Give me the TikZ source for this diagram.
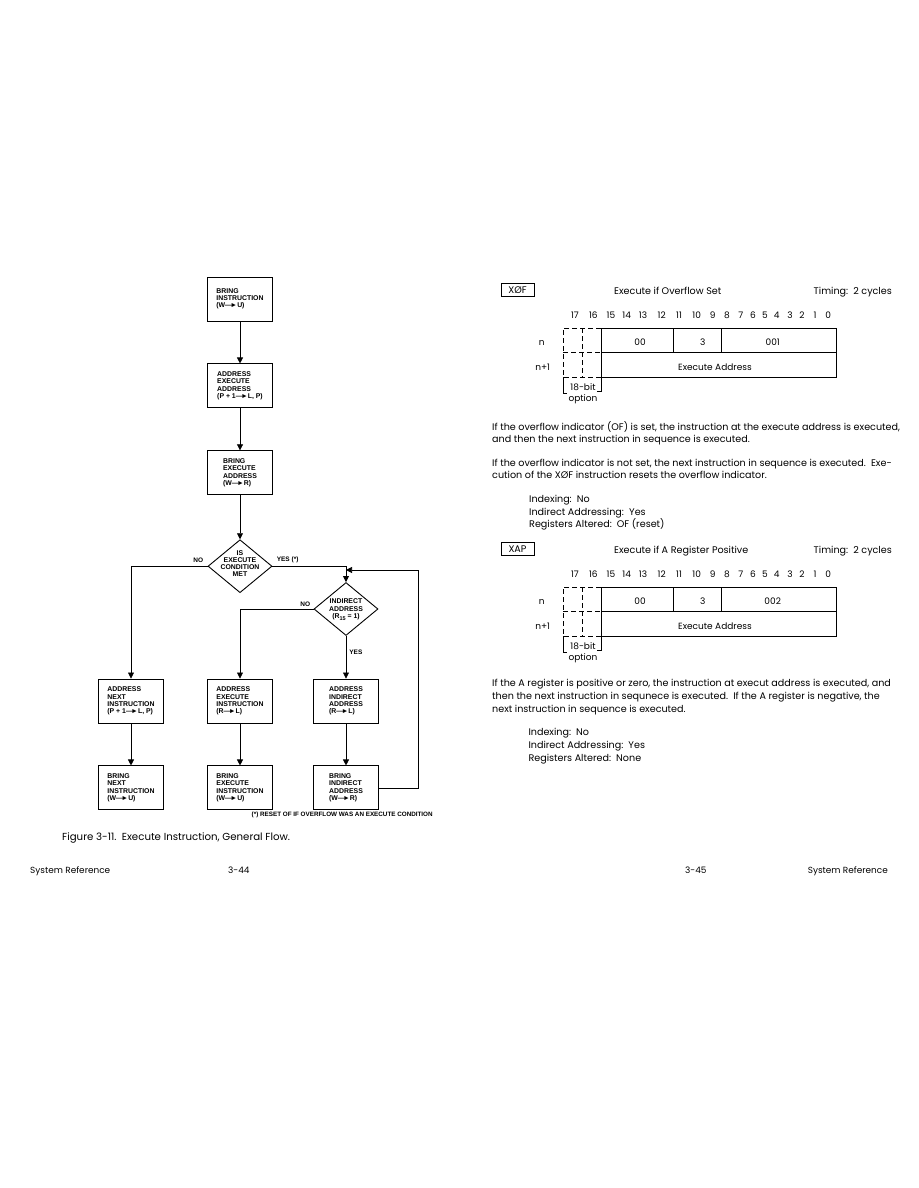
\documentclass[tikz,border=0pt]{standalone}
\usepackage{fontspec}
\setmainfont{Poppins}
\newfontfamily\flowfam{Liberation Sans}
\usetikzlibrary{shapes.geometric,arrows.meta,positioning}

\newcommand{\arr}{\textemdash\kern-0.25em►}
\newcommand{\dtext}[1]{\smash{\begin{tabular}[c]{@{}c@{}}#1\end{tabular}}}

\begin{document}
\begin{tikzpicture}[x=1pt, y=-1pt,
    block/.style={rectangle, draw, line width=0.9pt, minimum width=65pt, minimum height=44pt, inner sep=0pt, align=left, font=\flowfam\bfseries\fontsize{6.9}{7.3}\selectfont},
    decision/.style={diamond, draw, line width=0.9pt, minimum width=64pt, minimum height=53pt, inner sep=0pt, font=\flowfam\bfseries\fontsize{6.9}{7.2}\selectfont},
    arrow/.style={-{Triangle[length=6pt,width=6pt]}, line width=0.7pt},
    tag/.style={font=\flowfam\bfseries\fontsize{6.5}{7.3}\selectfont, inner sep=0pt},
    txt/.style={font=\fontsize{9.6}{12.8}\selectfont, inner sep=0pt},
    small/.style={font=\fontsize{9}{11}\selectfont, inner sep=0pt},
    field/.style={line width=0.9pt},
    opt/.style={line width=0.9pt, dash pattern=on 5pt off 3pt}
]
\useasboundingbox (0,0) rectangle (918,1188);

% Flow chart, left page
\node[block] (bringinst) at (240,299) {BRING\\INSTRUCTION\\(W\arr U)};
\node[block, below=42pt of bringinst] (addrexec) {ADDRESS\\EXECUTE\\ADDRESS\\(P + 1\arr L, P)};
\node[block, below=42pt of addrexec] (bringexec) {BRING\\EXECUTE\\ADDRESS\\(W\arr R)};
\node[decision, below=44pt of bringexec] (cond) {\dtext{IS\\EXECUTE\\CONDITION\\MET}};
\node[decision] (indir) at (346,609) {\raisebox{-5pt}{\dtext{INDIRECT\\ADDRESS\\(R\raisebox{-2pt}{\fontsize{5.5}{5.5}\selectfont 15} = 1)}}};

\node[block] (nextaddr) at (131,701) {ADDRESS\\NEXT\\INSTRUCTION\\(P + 1\arr L, P)};
\node[block] (execaddr) at (240,701) {ADDRESS\\EXECUTE\\INSTRUCTION\\(R\arr L)};
\node[block] (indaddr) at (346,701) {ADDRESS\\INDIRECT\\ADDRESS\\(R\arr L)};
\node[block, below=42pt of nextaddr] (nextbring) {BRING\\NEXT\\INSTRUCTION\\(W\arr U)};
\node[block, below=42pt of execaddr] (execbring) {BRING\\EXECUTE\\INSTRUCTION\\(W\arr U)};
\node[block, below=42pt of indaddr] (indbring) {BRING\\INDIRECT\\ADDRESS\\(W\arr R)};
\coordinate (merge) at (346,570);

\draw[arrow] (bringinst) -- (addrexec);
\draw[arrow] (addrexec) -- (bringexec);
\draw[arrow] (bringexec) -- (cond);
\draw[arrow] (cond.west) -| (nextaddr.north) node[tag, pos=0, anchor=south east, xshift=-4pt, yshift=3pt] {NO};
\draw[arrow] (cond.east) -| (indir.north) node[tag, pos=0, anchor=south west, xshift=4pt, yshift=3pt] {YES (*)};
\draw[arrow] (indir.west) -| (execaddr.north) node[tag, pos=0, anchor=south east, xshift=-3pt, yshift=2pt] {NO};
\draw[arrow] (indir.south) -- (indaddr.north) node[tag, pos=0.38, anchor=west, xshift=3pt] {YES};
\draw[arrow] (nextaddr) -- (nextbring);
\draw[arrow] (execaddr) -- (execbring);
\draw[arrow] (indaddr) -- (indbring);
\draw[arrow] (indbring.east) -- ++(39,0) |- (merge);

\node[tag, font=\flowfam\bfseries\fontsize{6.3}{7.3}\selectfont, anchor=west] (note) at (251.5,815) {(*) RESET OF IF OVERFLOW WAS AN EXECUTE CONDITION};
\node[txt, font=\fontsize{10.2}{12}\selectfont, anchor=base west] (caption) at (62,840.5) {Figure 3-11.\ \ Execute Instruction, General Flow.};

% Instruction formats, right page
\foreach \dy/\op/\title/\code/\id in {0/XØF/Execute if Overflow Set/001/xof, 259/XAP/Execute if A Register Positive/002/xap} {
  \node[draw, line width=0.9pt, minimum width=33pt, minimum height=13pt, inner sep=0pt, font=\fontsize{9.6}{10}\selectfont] (op-\id) at (517.5,290+\dy) {\op};
  \node[txt, anchor=base west] (title-\id) at (614,294.5+\dy) {\title};
  \node[txt, anchor=base east] (time-\id) at (892,294.5+\dy) {Timing:\ \ 2 cycles};
  \foreach \b/\x in {17/575,16/593.3,15/611,14/626.7,13/643,12/661.7,11/679,10/696.7,9/712.7,8/727,7/740.7,6/753,5/765,4/776.7,3/790,2/802,1/815,0/828.3}
    \node[small, anchor=base] (bit\b-\id) at (\x,318.5+\dy) {\b};
  \draw[field] (601,328+\dy) rectangle (836,377+\dy);
  \draw[field] (601,352+\dy) -- (836,352+\dy);
  \draw[field] (673,328+\dy) -- (673,352+\dy);
  \draw[field] (721,328+\dy) -- (721,352+\dy);
  \draw[opt] (601,328+\dy) -- (563,328+\dy) -- (563,377+\dy) -- (601,377+\dy);
  \draw[opt] (582,328+\dy) -- (582,377+\dy);
  \draw[opt] (563,352+\dy) -- (601,352+\dy);
  \draw[field] (563,377+\dy) -- (563,393+\dy) -- (567,393+\dy);
  \draw[field] (601,377+\dy) -- (601,391+\dy) -- (597,391+\dy);
  \node[small, anchor=base] (n-\id) at (541.7,345.2+\dy) {n};
  \node[small, anchor=base] (n1-\id) at (542.7,370.2+\dy) {n+1};
  \node[small, anchor=base] (mode-\id) at (640,345.2+\dy) {00};
  \node[small, anchor=base] (three-\id) at (702.7,345.2+\dy) {3};
  \node[small, anchor=base] (code-\id) at (772.7,345.2+\dy) {\code};
  \node[small, anchor=base] (addr-\id) at (715,370.2+\dy) {Execute Address};
  \node[small, anchor=base] (bits-\id) at (583,390.5+\dy) {18-bit};
  \node[small, anchor=base] (optn-\id) at (583,401.5+\dy) {option};
}

% multi-line nodes: base is the last line
\node[txt, anchor=base west, align=left] (para1) at (492,442.8) {If the overflow indicator (OF) is set, the instruction at the execute address is executed,\\and then the next instruction in sequence is executed.};
\node[txt, anchor=base west, align=left] (para2) at (492,478.8) {If the overflow indicator is not set, the next instruction in sequence is executed.\ \ Exe-\\cution of the XØF instruction resets the overflow indicator.};
\node[txt, anchor=base west, align=left] (list1) at (529,527.8) {Indexing:\ \ No\\Indirect Addressing:\ \ Yes\\Registers Altered:\ \ OF (reset)};
\node[txt, anchor=base west, align=left] (para3) at (492,712.5) {If the A register is positive or zero, the instruction at execut address is executed, and\\then the next instruction in sequnece is executed.\ \ If the A register is negative, the\\next instruction in sequence is executed.};
\node[txt, anchor=base west, align=left] (list2) at (528.3,761) {Indexing:\ \ No\\Indirect Addressing:\ \ Yes\\Registers Altered:\ \ None};

\node[txt, font=\fontsize{8.9}{11}\selectfont, anchor=base west] (foot-l) at (30,873.5) {System Reference};
\node[txt, font=\fontsize{8.9}{11}\selectfont, anchor=base west] (page-l) at (228,873.5) {3-44};
\node[txt, font=\fontsize{8.9}{11}\selectfont, anchor=base west] (page-r) at (685,873.5) {3-45};
\node[txt, font=\fontsize{8.9}{11}\selectfont, anchor=base east] (foot-r) at (888,873.5) {System Reference};

\end{tikzpicture}
\end{document}
